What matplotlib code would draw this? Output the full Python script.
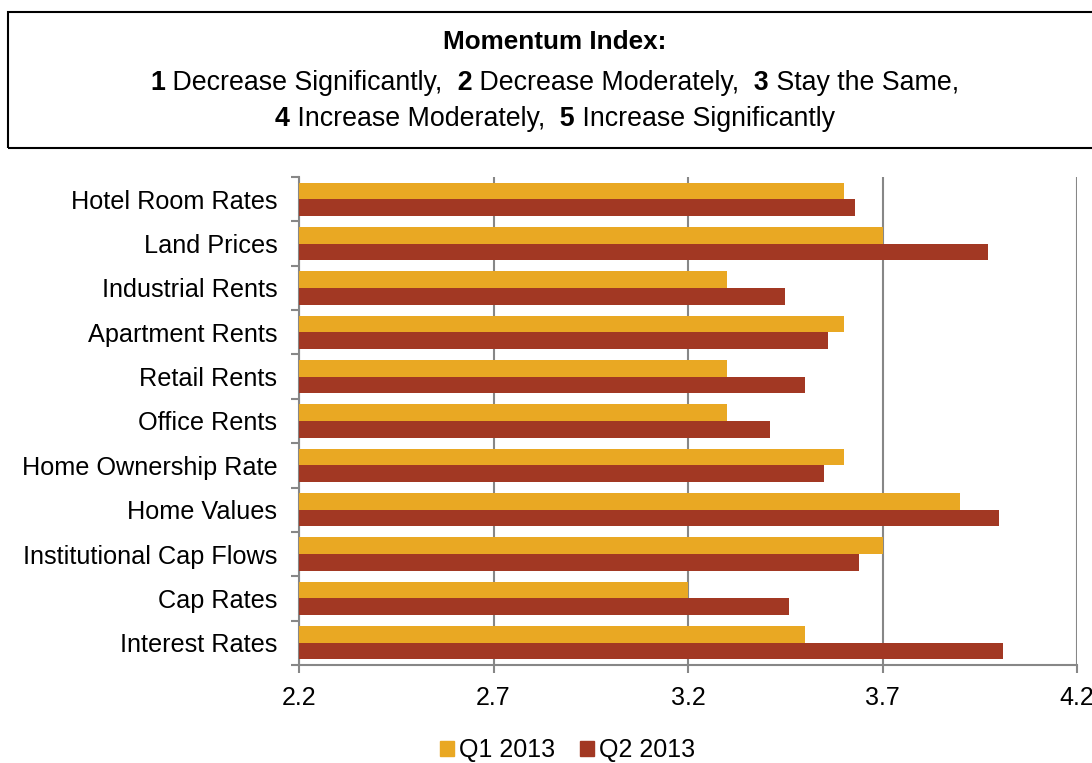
import numpy as np
import matplotlib.pyplot as plt
from matplotlib.patches import Rectangle, Patch

plt.rcParams['font.family'] = ['Liberation Sans', 'DejaVu Sans']

categorias = ['Hotel Room Rates', 'Land Prices', 'Industrial Rents', 'Apartment Rents',
              'Retail Rents', 'Office Rents', 'Home Ownership Rate', 'Home Values',
              'Institutional Cap Flows', 'Cap Rates', 'Interest Rates']
q1_2013 = [3.60, 3.70, 3.30, 3.60, 3.30, 3.30, 3.60, 3.90, 3.70, 3.20, 3.50]
q2_2013 = [3.63, 3.97, 3.45, 3.56, 3.50, 3.41, 3.55, 4.00, 3.64, 3.46, 4.01]
series = ['Q1 2013', 'Q2 2013']
x_ticks = [2.2, 2.7, 3.2, 3.7, 4.2]

col_q1 = '#E9A823'
col_q2 = '#A23823'
gris = '#878787'

fig = plt.figure(figsize=(10.92, 7.63), dpi=100)
ax = fig.add_axes([299/1092, 1-665/763, (1077-299)/1092, (665-177)/763])

n = len(categorias)
y = np.arange(n)[::-1]
h = 0.375
base = x_ticks[0]
ax.barh(y + h/2, np.array(q1_2013) - base, left=base, height=h, color=col_q1, label=series[0], zorder=3)
ax.barh(y - h/2, np.array(q2_2013) - base, left=base, height=h, color=col_q2, label=series[1], zorder=3)

ax.set_xlim(x_ticks[0], x_ticks[-1])
ax.set_ylim(-0.5, n - 0.5)
ax.set_xticks(x_ticks)
ax.set_xticklabels([str(v) for v in x_ticks])
ax.set_yticks(y)
ax.set_yticklabels(categorias)
ax.set_yticks(np.arange(n + 1) - 0.5, minor=True)
ax.tick_params(axis='y', which='major', length=0, pad=15.5, labelsize=18.2)
ax.tick_params(axis='y', which='minor', length=6, width=1.5, color=gris)
ax.tick_params(axis='x', length=6, width=1.5, color=gris, labelsize=18, pad=9)

ax.grid(axis='x', color=gris, linewidth=1.5, zorder=0)
for s in ['top', 'right']:
    ax.spines[s].set_visible(False)
for s in ['left', 'bottom']:
    ax.spines[s].set_color(gris)
    ax.spines[s].set_linewidth(1.5)

# caja de la leyenda del indice
caja = Rectangle((8/1092, 1-148/763), 1.1, (148-12)/763, transform=fig.transFigure,
                 fill=False, edgecolor='black', linewidth=1.5, clip_on=False)
fig.add_artist(caja)
fig.text(0.508, 1-42/763, 'Momentum Index:', ha='center', va='center', fontsize=18.8, fontweight='bold')

def linea(piezas, yc, xc=0.508):
    textos = []
    for txt, bold in piezas:
        textos.append(fig.text(0, yc, txt, ha='left', va='center', fontsize=19.3,
                               fontweight='bold' if bold else 'normal'))
    fig.canvas.draw()
    r = fig.canvas.get_renderer()
    anchos = [t.get_window_extent(r).width / fig.bbox.width for t in textos]
    x = xc - sum(anchos) / 2
    for t, w in zip(textos, anchos):
        t.set_x(x)
        x += w

linea([('1', True), (' Decrease Significantly,', False), ('  2', True),
       (' Decrease Moderately,', False), ('  3', True), (' Stay the Same,', False)], 1-83/763)
linea([('4', True), (' Increase Moderately,', False), ('  5', True),
       (' Increase Significantly', False)], 1-119/763)

manejadores = [Patch(color=col_q1), Patch(color=col_q2)]
fig.legend(manejadores, series, loc='center', bbox_to_anchor=(0.52, 13/763), ncol=2,
           frameon=False, fontsize=18, handlelength=0.55, handleheight=0.55,
           handletextpad=0.2, columnspacing=1.0)

fig.savefig('out.png', dpi=100)
